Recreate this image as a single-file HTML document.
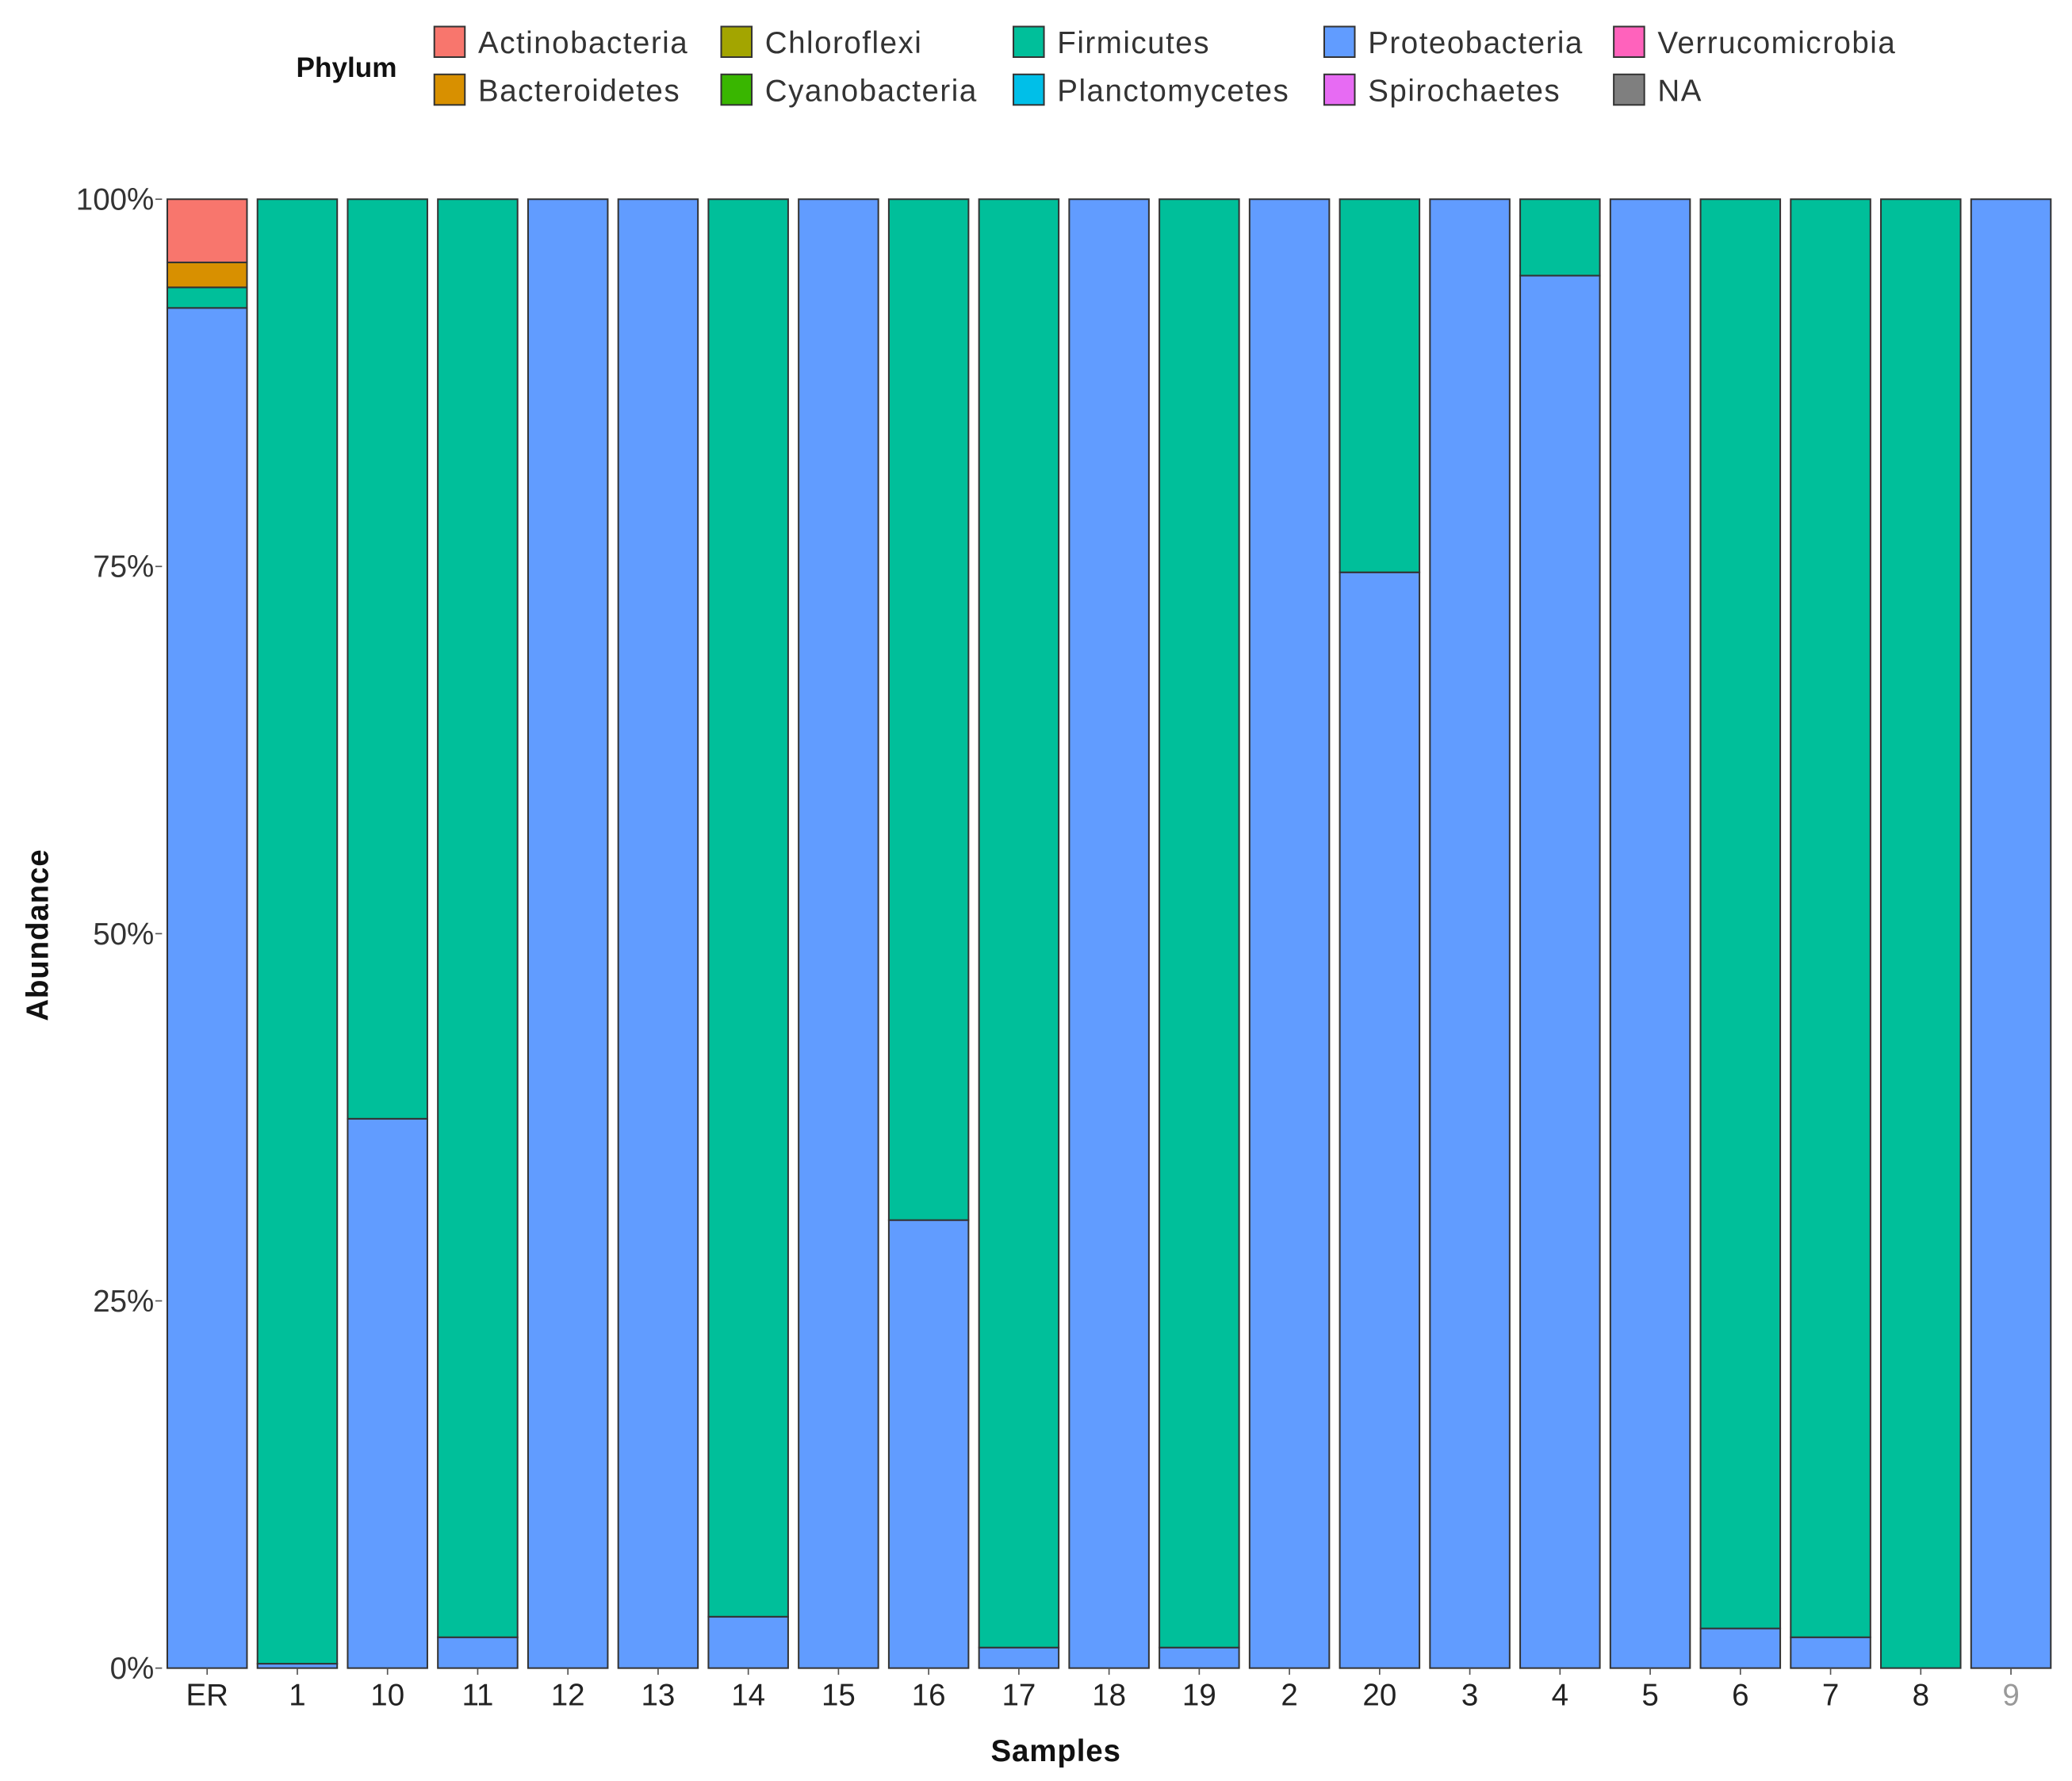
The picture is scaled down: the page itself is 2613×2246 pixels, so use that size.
<!DOCTYPE html>
<html><head><meta charset="utf-8"><style>
html,body{margin:0;padding:0;background:#fff;}
svg{display:block;}
text{font-family:"Liberation Sans",sans-serif;}
</style></head><body>
<svg id="chart" width="2613" height="2246" viewBox="0 0 1560 1341" preserveAspectRatio="none" xmlns="http://www.w3.org/2000/svg">
<g id="legend"></g>
<g id="plot"></g>
<g id="axes"></g>
<text x="795" y="1326" text-anchor="middle" font-size="23" font-weight="bold" fill="#111" letter-spacing="0.5">Samples</text>
<text transform="translate(36,704) rotate(-90)" text-anchor="middle" font-size="23" font-weight="bold" fill="#111" letter-spacing="0.5">Abundance</text>
</svg>
<script>
const samples = ["ER","1","10","11","12","13","14","15","16","17","18","19","2","20","3","4","5","6","7","8","9"];
const proteobacteria = [92.6,0.3,37.4,2.1,100,100,3.5,100,30.5,1.4,100,1.4,100,74.6,100,94.8,100,2.7,2.1,0,100];
const firmicutes = [1.4,99.7,62.6,97.9,0,0,96.5,0,69.5,98.6,0,98.6,0,25.4,0,5.2,0,97.3,97.9,100,0];
const bacteroidetes = [1.7,0,0,0,0,0,0,0,0,0,0,0,0,0,0,0,0,0,0,0,0];
const actinobacteria = [4.3,0,0,0,0,0,0,0,0,0,0,0,0,0,0,0,0,0,0,0,0];
const yTicks = [0,25,50,75,100];
const yTickLabels = ["0%","25%","50%","75%","100%"];
const legendNames = ["Actinobacteria","Bacteroidetes","Chloroflexi","Cyanobacteria","Firmicutes","Planctomycetes","Proteobacteria","Spirochaetes","Verrucomicrobia","NA"];
const legendColors = ["#F8766D","#D89000","#A3A500","#39B600","#00BF9A","#00BFE8","#619CFF","#E76BF3","#FF62BC","#7F7F7F"];

const NS="http://www.w3.org/2000/svg";
const X0=122,X1=1548,Y0=1256,Y1=150;
const step=(X1-X0)/samples.length, bw=60;
const xc=i=>X0+step*(i+0.5);
const yv=v=>Y0-(Y0-Y1)*v/100;
function mk(tag,attrs,parent){const e=document.createElementNS(NS,tag);for(const k in attrs)e.setAttribute(k,attrs[k]);parent.appendChild(e);return e;}
const plot=document.getElementById('plot'),axes=document.getElementById('axes'),legend=document.getElementById('legend');

const stack=[["proteobacteria",proteobacteria,"#619CFF"],["firmicutes",firmicutes,"#00BF9A"],["bacteroidetes",bacteroidetes,"#D89000"],["actinobacteria",actinobacteria,"#F8766D"]];
samples.forEach((s,i)=>{
  let cum=0;
  stack.forEach(([nm,arr,col])=>{
    const v=arr[i]; if(v<=0){return;}
    const r=mk('rect',{x:xc(i)-bw/2,y:yv(cum+v),width:bw,height:yv(cum)-yv(cum+v),fill:col,stroke:"#333",'stroke-width':1.2},plot);
    
    
    cum+=v;
  });
  mk('line',{x1:xc(i),x2:xc(i),y1:Y0,y2:Y0+5,stroke:"#555",'stroke-width':1},axes);
  const t=mk('text',{x:xc(i),y:Y0+28,'text-anchor':'middle','font-size':23,fill:(s==="9"?"#999":"#222")},axes);
  t.textContent=s;
  
  
});
yTicks.forEach((v,k)=>{
  mk('line',{x1:X0-5,x2:X0,y1:yv(v),y2:yv(v),stroke:"#555",'stroke-width':1},axes);
  const t=mk('text',{x:X0-6,y:yv(v)+8,'text-anchor':'end','font-size':23,fill:"#333"},axes);
  t.textContent=yTickLabels[k];
  
  
});
const pt=mk('text',{x:223,y:58,'font-size':21,'font-weight':'bold',fill:"#111"},legend);
pt.textContent="Phylum";


const colX=[327,543,763,997,1215];
legendNames.forEach((n,k)=>{
  const c=Math.floor(k/2),r=k%2;
  const g=mk('g',{},legend);
  
  
  mk('rect',{x:colX[c],y:20+r*36,width:23,height:23,fill:legendColors[k],stroke:"#333",'stroke-width':1.2},g);
  const t=mk('text',{x:colX[c]+33,y:40+r*36,'font-size':23,'letter-spacing':'0.9',fill:"#333"},g);
  t.textContent=n;
});
</script>
</body></html>
